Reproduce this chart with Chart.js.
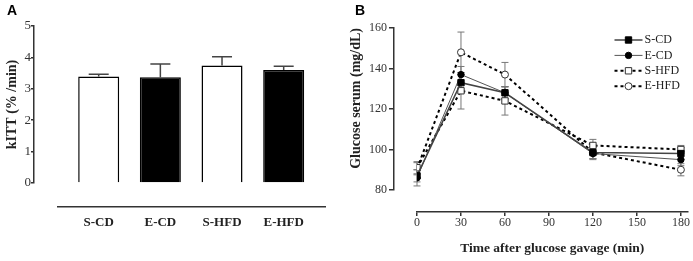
<!DOCTYPE html>
<html>
<head>
<meta charset="utf-8">
<script src="https://cdn.jsdelivr.net/npm/chart.js@4.4.1/dist/chart.umd.min.js"></script>
<style>
  body { margin: 0; background: #fff; }
  .panel { position: absolute; top: 0; }
  .tag { position: absolute; top: 2px; font: bold 14px "Liberation Sans", Arial, sans-serif; color: #000; }
</style>
</head>
<body>
<div class="panel" style="left:0"><canvas id="kitt" width="340" height="261"></canvas></div>
<div class="panel" style="left:340px"><canvas id="ogtt" width="353" height="261"></canvas></div>
<div class="tag" style="left:7px">A</div>
<div class="tag" style="left:355px">B</div>
<script>
// Panel A - insulin tolerance (kITT)
const groups = ['S-CD', 'E-CD', 'S-HFD', 'E-HFD'];
const kittMean = [3.39, 3.37, 3.74, 3.60];
const kittSem = [0.07, 0.42, 0.28, 0.12];
const kittTicks = [0, 1, 2, 3, 4, 5];

// Panel B - glucose after gavage
const minutes = [0, 30, 60, 120, 180];
const minuteTicks = [0, 30, 60, 90, 120, 150, 180];
const glucoseTicks = [80, 100, 120, 140, 160];
const sCd = [87, 133, 128, 98.5, 98];
const sCdErr = [3, 4, 3, 3, 3];
const eCd = [86, 137, 128, 98, 95];
const eCdErr = [4, 4, 3, 3, 3];
const sHfd = [91, 129, 124, 102, 100];
const sHfdErr = [3, 9, 7, 3, 2];
const eHfd = [90.5, 148, 137, 98.5, 90];
const eHfdErr = [3, 10, 6, 3, 3];

Chart.defaults.font.family = '"Liberation Serif", "Times New Roman", serif';
Chart.defaults.font.size = 12;
Chart.defaults.color = '#333';
Chart.defaults.animation = false;

// prism-style detached axes: pull the scales apart after layout
const offsetAxes = {
  id: 'offsetAxes',
  afterLayout(chart, args, o) {
    const {x, y} = chart.scales;
    if (o.xLeft) x.left += o.xLeft;
    if (o.xDown) { x.top += o.xDown; x.bottom += o.xDown; }
    if (o.yUp) y.bottom -= o.yUp;
    x.width = x.right - x.left;
    y.height = y.bottom - y.top;
    x.configure();
    y.configure();
  }
};

const errorBars = {
  id: 'errorBars',
  beforeDatasetsDraw(chart, args, o) {
    const ctx = chart.ctx;
    const ys = chart.scales.y;
    chart.data.datasets.forEach((ds, i) => {
      if (!ds.errors) return;
      const meta = chart.getDatasetMeta(i);
      ctx.save();
      ctx.strokeStyle = o.color;
      ctx.lineWidth = o.width;
      meta.data.forEach((el, j) => {
        const v = ds.data[j].y;
        const top = ys.getPixelForValue(v + ds.errors[j]);
        const bot = ds.errorDir === 'up' ? ys.getPixelForValue(v) : ys.getPixelForValue(v - ds.errors[j]);
        const w = ds.capWidth / 2;
        ctx.beginPath();
        ctx.moveTo(el.x, top); ctx.lineTo(el.x, bot);
        ctx.moveTo(el.x - w, top); ctx.lineTo(el.x + w, top);
        if (ds.errorDir !== 'up') { ctx.moveTo(el.x - w, bot); ctx.lineTo(el.x + w, bot); }
        ctx.stroke();
      });
      ctx.restore();
    });
  }
};

const lineLegend = {
  id: 'lineLegend',
  afterDraw(chart, args, o) {
    const ctx = chart.ctx;
    const {right, top} = chart.chartArea;
    chart.data.datasets.forEach((ds, i) => {
      const y = top + o.top + i * o.row;
      const x0 = right - o.right;
      ctx.save();
      ctx.strokeStyle = ds.borderColor;
      ctx.lineWidth = ds.borderWidth;
      ctx.setLineDash(ds.borderDash || []);
      ctx.beginPath();
      ctx.moveTo(x0, y); ctx.lineTo(x0 + o.line, y);
      ctx.stroke();
      ctx.setLineDash([]);
      ctx.fillStyle = ds.pointBackgroundColor;
      ctx.strokeStyle = ds.pointBorderColor;
      ctx.lineWidth = ds.pointBorderWidth || 1;
      Chart.helpers.drawPoint(ctx, {pointStyle: ds.pointStyle, radius: ds.pointRadius, rotation: 0, borderWidth: ctx.lineWidth}, x0 + o.line / 2, y);
      ctx.fillStyle = '#222';
      ctx.font = '12px "Liberation Serif", serif';
      ctx.textBaseline = 'middle';
      ctx.fillText(ds.label, x0 + o.line + 2, y);
      ctx.restore();
    });
  }
};

new Chart(document.getElementById('kitt'), {
  type: 'bar',
  data: {
    datasets: [{
      data: groups.map((g, i) => ({x: i + 1, y: kittMean[i]})),
      errors: kittSem,
      errorDir: 'up',
      capWidth: 20,
      backgroundColor: ['#fff', '#000', '#fff', '#000'],
      borderColor: '#000',
      borderWidth: 1.5,
      barPercentage: 0.665,
      categoryPercentage: 1
    }]
  },
  options: {
    responsive: false,
    layout: { padding: { top: 26, right: 15, bottom: 48, left: 0 } },
    plugins: {
      legend: { display: false },
      tooltip: { enabled: false },
      offsetAxes: { xLeft: 24, xDown: 24 },
      errorBars: { color: '#444', width: 1.5 }
    },
    scales: {
      x: {
        type: 'linear', min: 0.34, max: 4.67, offset: false,
        afterBuildTicks: s => { s.ticks = groups.map((g, i) => ({value: i + 1})); },
        afterFit: s => { s.height = 30; },
        grid: { display: false, drawTicks: false, offset: false },
        border: { color: '#333', width: 1.5 },
        ticks: { autoSkip: false, maxRotation: 0, padding: 8, color: '#222',
                 font: { weight: 'bold', size: 13 }, callback: v => groups[v - 1] }
      },
      y: {
        min: 0, max: 5,
        afterBuildTicks: s => { s.ticks = kittTicks.map(v => ({value: v})); },
        afterFit: s => { s.width = 34; },
        grid: { drawOnChartArea: false, tickLength: 3, color: '#333', lineWidth: 1.5 },
        border: { color: '#333', width: 1.5 },
        ticks: { padding: 0, font: { size: 13 } },
        title: { display: true, text: 'kITT (% /min)', color: '#222',
                 font: { weight: 'bold', size: 14 }, padding: { top: 4, bottom: 4 } }
      }
    }
  },
  plugins: [offsetAxes, errorBars]
});

function series(label, values, errors, style) {
  return Object.assign({
    label,
    data: minutes.map((m, i) => ({x: m, y: values[i]})),
    errors,
    capWidth: 7,
    tension: 0,
    fill: false
  }, style);
}

new Chart(document.getElementById('ogtt'), {
  type: 'line',
  data: {
    datasets: [
      series('S-CD', sCd, sCdErr, { borderColor: '#444', borderWidth: 1.5, pointStyle: 'rect', pointRadius: 4.5,
        pointBackgroundColor: '#000', pointBorderColor: '#000', pointBorderWidth: 1 }),
      series('E-CD', eCd, eCdErr, { borderColor: '#555', borderWidth: 1, pointStyle: 'circle', pointRadius: 3.2,
        pointBackgroundColor: '#000', pointBorderColor: '#000', pointBorderWidth: 1 }),
      series('S-HFD', sHfd, sHfdErr, { borderColor: '#000', borderWidth: 2, borderDash: [3, 3], pointStyle: 'rect', pointRadius: 4.5,
        pointBackgroundColor: '#fff', pointBorderColor: '#333', pointBorderWidth: 1 }),
      series('E-HFD', eHfd, eHfdErr, { borderColor: '#000', borderWidth: 2, borderDash: [3, 3], pointStyle: 'circle', pointRadius: 3.5,
        pointBackgroundColor: '#fff', pointBorderColor: '#333', pointBorderWidth: 1 })
    ]
  },
  options: {
    responsive: false,
    layout: { padding: { top: 28, right: 3, bottom: 0, left: 0 } },
    plugins: {
      legend: { display: false },
      tooltip: { enabled: false },
      offsetAxes: { xLeft: 23, yUp: 22 },
      errorBars: { color: '#777', width: 1 },
      lineLegend: { right: 73, top: 12, row: 15.4, line: 28 }
    },
    scales: {
      x: {
        type: 'linear', min: 0, max: 184.5,
        afterBuildTicks: s => { s.ticks = minuteTicks.map(v => ({value: v})); },
        afterFit: s => { s.height = 49; },
        grid: { drawOnChartArea: false, tickLength: 4, color: '#333', lineWidth: 1.5 },
        border: { color: '#333', width: 1.5 },
        ticks: { autoSkip: false, maxRotation: 0, padding: 0 },
        title: { display: true, text: 'Time after glucose gavage (min)', color: '#222',
                 font: { weight: 'bold', size: 13.5 }, padding: { top: 4, bottom: 4 } }
      },
      y: {
        min: 80, max: 160,
        afterBuildTicks: s => { s.ticks = glucoseTicks.map(v => ({value: v})); },
        afterFit: s => { s.width = 54; },
        grid: { drawOnChartArea: false, tickLength: 5, color: '#333', lineWidth: 1.5 },
        border: { color: '#333', width: 1.5 },
        ticks: { padding: 2 },
        title: { display: true, text: 'Glucose serum (mg/dL)', align: 'end', color: '#222',
                 font: { weight: 'bold', size: 14 }, padding: { top: 8, bottom: 4 } }
      }
    }
  },
  plugins: [offsetAxes, errorBars, lineLegend]
});
</script>
</body>
</html>
